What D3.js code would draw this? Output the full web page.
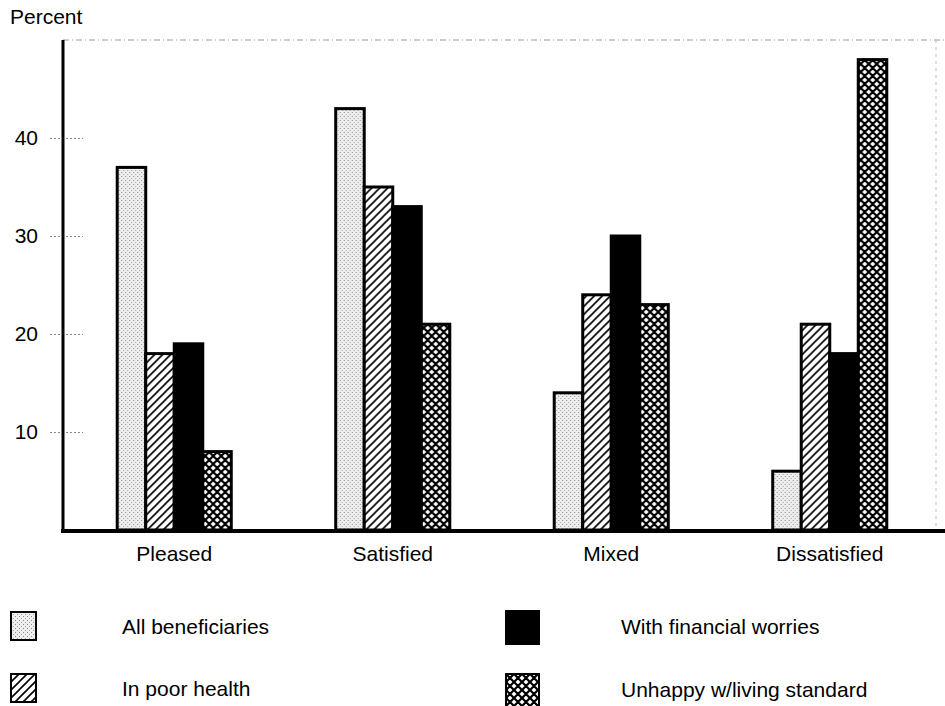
<!DOCTYPE html>
<html><head><meta charset="utf-8">
<script src="https://cdn.jsdelivr.net/npm/d3@7"></script>
<style>body{margin:0;background:#fff;}svg{display:block;font-family:"Liberation Sans",Arial,sans-serif;}</style>
</head><body>
<svg id="c" width="945" height="706"></svg>
<script>
const categories = ["Pleased", "Satisfied", "Mixed", "Dissatisfied"];
const seriesNames = ["All beneficiaries", "In poor health", "With financial worries", "Unhappy w/living standard"];
const allBeneficiaries = [37, 43, 14, 6];
const inPoorHealth = [18, 35, 24, 21];
const withFinancialWorries = [19, 33, 30, 18];
const unhappyLiving = [8, 21, 23, 48];
const yTicks = [10, 20, 30, 40];
const seriesValues = [allBeneficiaries, inPoorHealth, withFinancialWorries, unhappyLiving];

const FS = 21;
const svg = d3.select("#c");
const defs = svg.append("defs");
// stipple
const p1 = defs.append("pattern").attr("id","pat0").attr("patternUnits","userSpaceOnUse").attr("width",4).attr("height",4);
p1.append("rect").attr("width",4).attr("height",4).attr("fill","#eeeeee");
p1.append("rect").attr("x",0).attr("y",0).attr("width",1).attr("height",1).attr("fill","#8a8a8a");
p1.append("rect").attr("x",2).attr("y",2).attr("width",1).attr("height",1).attr("fill","#a5a5a5");
// hatch
const p2 = defs.append("pattern").attr("id","pat1").attr("patternUnits","userSpaceOnUse").attr("width",8).attr("height",8);
p2.append("rect").attr("width",8).attr("height",8).attr("fill","#fff");
p2.append("path").attr("d","M-2,10 L10,-2 M-2,2 L2,-2 M6,10 L10,6").attr("stroke","#000").attr("stroke-width",1.6);
// crosshatch
const p4 = defs.append("pattern").attr("id","pat3").attr("patternUnits","userSpaceOnUse").attr("width",8).attr("height",8);
p4.append("rect").attr("width",8).attr("height",8).attr("fill","#fff");
p4.append("path").attr("d","M0,0 L8,8 M8,0 L0,8 M-4,4 L0,8 M4,-4 L12,4 M-4,4 L4,-4 M4,12 L12,4").attr("stroke","#000").attr("stroke-width",2.2);
const fills = ["url(#pat0)", "url(#pat1)", "#000", "url(#pat3)"];

const x0 = d3.scaleBand().domain(categories).range([65, 939]).paddingInner(0.478).paddingOuter(0.239);
const x1 = d3.scaleBand().domain(d3.range(4)).range([0, x0.bandwidth()]);
const y = d3.scaleLinear().domain([0, 50]).range([530, 40]);

// frame (dotted top/right)
svg.append("line").attr("x1",63).attr("x2",945).attr("y1",y(50)).attr("y2",y(50)).attr("stroke","#999").attr("stroke-dasharray","6,3,1,3");
svg.append("line").attr("x1",936).attr("x2",936).attr("y1",y(50)).attr("y2",y(0)).attr("stroke","#bbb").attr("stroke-dasharray","3,4");

// y axis
const yAxis = d3.axisLeft(y).tickValues(yTicks).tickSize(13).tickPadding(12);
const ga = svg.append("g").attr("transform","translate(63,0)").call(yAxis);
ga.select(".domain").remove();
ga.selectAll(".tick line").attr("x2", 20).attr("x1", -13).attr("stroke","#888").attr("stroke-dasharray","2,2");
ga.selectAll(".tick text").attr("font-size",FS).attr("fill","#000").attr("font-family","Liberation Sans, Arial, sans-serif");
svg.append("line").attr("x1",63).attr("x2",63).attr("y1",y(50)).attr("y2",y(0)).attr("stroke","#000").attr("stroke-width",3);

svg.append("text").attr("x",10).attr("y",24).attr("font-size",FS).text("Percent");

// bars
const groups = svg.append("g").selectAll("g").data(categories).join("g")
  .attr("transform", d => `translate(${x0(d)},0)`);
groups.selectAll("rect").data((d,i) => seriesValues.map((s,k) => ({k, v: s[i]}))).join("rect")
  .attr("x", d => x1(d.k)).attr("width", x1.bandwidth())
  .attr("y", d => y(d.v)).attr("height", d => y(0) - y(d.v))
  .attr("fill", d => fills[d.k]).attr("stroke","#000").attr("stroke-width",3);

// baseline
svg.append("line").attr("x1",61).attr("x2",945).attr("y1",y(0)+1).attr("y2",y(0)+1).attr("stroke","#000").attr("stroke-width",4);

// x axis labels
const xAxis = d3.axisBottom(x0).tickSize(0).tickPadding(16);
const gx = svg.append("g").attr("transform",`translate(0,${y(0)})`).call(xAxis);
gx.select(".domain").remove();
gx.selectAll(".tick text").attr("font-size",FS).attr("fill","#000").attr("font-family","Liberation Sans, Arial, sans-serif");

// legend
const legendPos = [[11,612],[11,674],[506,611],[506,674]];
const lg = svg.append("g").selectAll("g").data(seriesNames).join("g")
  .attr("transform",(d,i)=>`translate(${legendPos[i][0]},${legendPos[i][1]})`);
lg.append("rect").attr("width",(d,i)=> i>=2 ? 33 : 25).attr("height",(d,i)=> i>=2 ? 33 : 28)
  .attr("fill",(d,i)=>fills[i]).attr("stroke","#000").attr("stroke-width",2);
lg.append("text").attr("x",(d,i)=> i>=2 ? 115 : 111).attr("y",(d,i)=> i>=2 ? 23 : 22).attr("font-size",FS).text(d=>d);
</script>
</body></html>
